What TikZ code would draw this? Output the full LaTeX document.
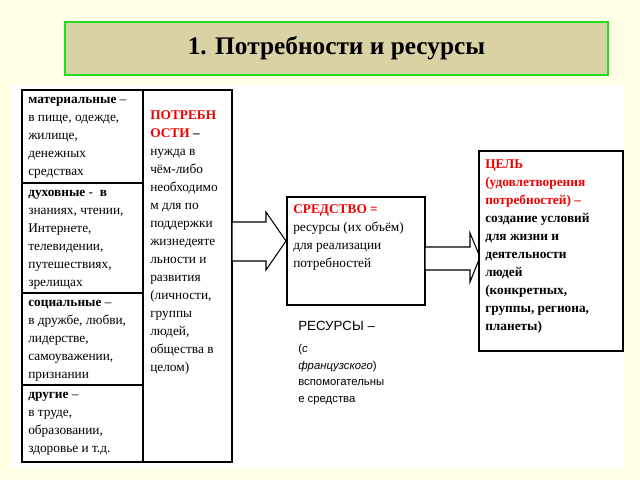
\documentclass[tikz,border=0pt]{standalone}
\usepackage{fontspec}
\setmainfont{Liberation Serif}
\setsansfont{Liberation Sans}
\usetikzlibrary{shapes.arrows}
\definecolor{bgcream}{HTML}{FFFFE6}
\definecolor{titlefill}{HTML}{D8D2A4}
\definecolor{titlegreen}{HTML}{22DD22}
\definecolor{redtxt}{HTML}{EE0000}
\tikzset{
  cell/.style={anchor=north west,align=left,inner sep=0pt,font=\fontsize{10}{13.5}\selectfont},
  framebox/.style={draw,line width=0.8pt},
  blockarrow/.style={draw,line width=0.8pt,fill=white}
}
\begin{document}
\begin{tikzpicture}[x=0.75pt,y=-0.75pt]
\useasboundingbox (0,0) rectangle (640,480);
\fill[bgcream] (0,0) rectangle (640,480);
% title
\node[draw=titlegreen,line width=2.2pt,fill=titlefill,minimum width=543*0.75pt,minimum height=53*0.75pt,
  font=\bfseries\fontsize{19}{22}\selectfont] (title) at (336.5,48.5) {1. Потребности и ресурсы};
\fill[white] (12,85) rectangle (625,468);
% table
\draw[framebox] (22,90) rectangle (232,462);
\draw[framebox] (143,90) -- (143,462);
\draw[framebox] (22,183) -- (143,183);
\draw[framebox] (22,293) -- (143,293);
\draw[framebox] (22,385) -- (143,385);
\node[cell] (mat) at (28,97) {\textbf{материальные} –\\в пище, одежде,\\жилище,\\денежных\\средствах};
\node[cell] (duh) at (28,190) {\textbf{духовные} -\ \ \textbf{в}\\знаниях, чтении,\\Интернете,\\телевидении,\\путешествиях,\\зрелищах};
\node[cell] (soc) at (28,300) {\textbf{социальные} –\\в дружбе, любви,\\лидерстве,\\самоуважении,\\признании};
\node[cell] (dr) at (28,392) {\textbf{другие} –\\в труде,\\образовании,\\здоровье и т.д.};
\node[cell] (potr) at (150,110) {\textbf{\color{redtxt}ПОТРЕБН}\\\textbf{\color{redtxt}ОСТИ} \textbf{–}\\нужда в\\чём-либо\\необходимо\\м для по\\поддержки\\жизнедеяте\\льности и\\развития\\(личности,\\группы\\людей,\\общества в\\целом)};
% arrows
\draw[blockarrow] (232,222) -- (266,222) -- (266,212) -- (286,241) -- (266,270) -- (266,261) -- (232,261) -- cycle;
\draw[framebox,fill=white] (287,197) rectangle (425,305);
\node[cell] (sredstvo) at (293,204) {\textbf{\color{redtxt}СРЕДСТВО =}\\ресурсы (их объём)\\для реализации\\потребностей};
\draw[blockarrow] (425,247) -- (470,247) -- (470,233) -- (480,257) -- (470,282) -- (470,270) -- (425,270) -- cycle;
\draw[framebox,fill=white] (479,151) rectangle (623,351);
\node[cell] (cel) at (485,159) {\textbf{\color{redtxt}ЦЕЛЬ}\\\textbf{\color{redtxt}(удовлетворения}\\\textbf{\color{redtxt}потребностей) –}\\\textbf{создание условий}\\\textbf{для жизни и}\\\textbf{деятельности}\\\textbf{людей}\\\textbf{(конкретных,}\\\textbf{группы, региона,}\\\textbf{планеты)}};
% resources
\node[anchor=north west,inner sep=0pt,font=\sffamily\fontsize{10}{12}\selectfont] (res) at (298,321) {РЕСУРСЫ –};
\node[anchor=north west,inner sep=0pt,align=left,font=\sffamily\fontsize{8.5}{12.5}\selectfont] (resdef) at (298,344) {(\textit{с}\\\textit{французского})\\вспомогательны\\е средства};
\end{tikzpicture}
\end{document}
